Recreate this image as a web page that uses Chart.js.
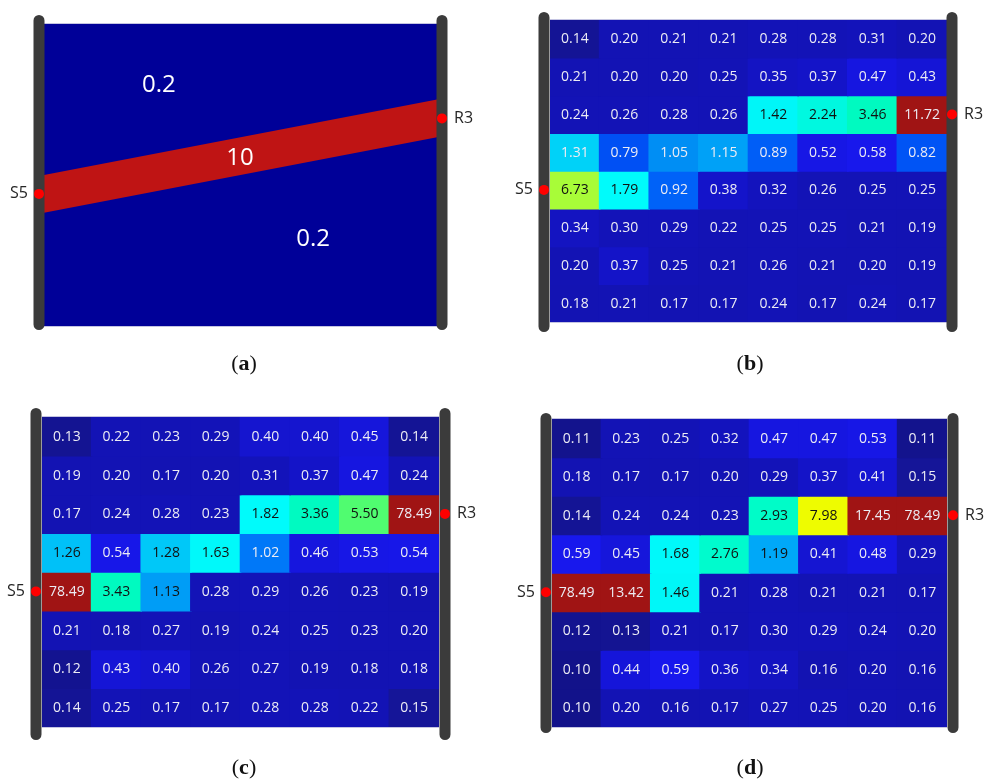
<!DOCTYPE html>
<html><head><meta charset="utf-8">
<script src="https://cdn.jsdelivr.net/npm/chart.js@4.4.1/dist/chart.umd.min.js"></script>
<style>
html,body{margin:0;padding:0;background:#fff;width:984px;height:781px;overflow:hidden;position:relative}
canvas{position:absolute}
.cap{position:absolute;font-family:"Liberation Serif","DejaVu Serif",serif;font-size:22px;color:#111;transform:translate(-50%,-50%);white-space:nowrap;line-height:1}
.cap b{font-weight:bold}
</style></head><body>
<canvas id="ca" width="492" height="390" style="left:0;top:0"></canvas>
<canvas id="cb" width="492" height="390" style="left:492px;top:0"></canvas>
<canvas id="cc" width="492" height="391" style="left:0;top:390px"></canvas>
<canvas id="cd" width="492" height="391" style="left:492px;top:390px"></canvas>
<div class="cap" style="left:244px;top:363px">(<b>a</b>)</div>
<div class="cap" style="left:750px;top:363px">(<b>b</b>)</div>
<div class="cap" style="left:244px;top:767px">(<b>c</b>)</div>
<div class="cap" style="left:750px;top:767px">(<b>d</b>)</div>
<script>
// ---------------- data ----------------
const columns = ['1','2','3','4','5','6','7','8'];
const rowCount = 8;
const sourceName = 'S5';
const receiverName = 'R3';
const sourceRow = 4;    // row index counted from the top
const receiverRow = 2;  // row index counted from the top

// panel (a): true model
const modelBackground = 0.2;
const modelAnomaly = 10;
const anomalyX = [0, 8];
const anomalyBottom = [3, 5];
const anomalyTop = [4, 6];
const modelLabelValue = [modelBackground, modelAnomaly, modelBackground];
const modelLabelX = [2.34, 3.99, 5.48];
const modelLabelY = [6.38, 4.45, 2.30];

// panels (b)-(d): reconstructed cell values, rows from top to bottom
const valuesB = [
  [0.14,0.20,0.21,0.21,0.28,0.28,0.31,0.20],
  [0.21,0.20,0.20,0.25,0.35,0.37,0.47,0.43],
  [0.24,0.26,0.28,0.26,1.42,2.24,3.46,11.72],
  [1.31,0.79,1.05,1.15,0.89,0.52,0.58,0.82],
  [6.73,1.79,0.92,0.38,0.32,0.26,0.25,0.25],
  [0.34,0.30,0.29,0.22,0.25,0.25,0.21,0.19],
  [0.20,0.37,0.25,0.21,0.26,0.21,0.20,0.19],
  [0.18,0.21,0.17,0.17,0.24,0.17,0.24,0.17]
];
const valuesC = [
  [0.13,0.22,0.23,0.29,0.40,0.40,0.45,0.14],
  [0.19,0.20,0.17,0.20,0.31,0.37,0.47,0.24],
  [0.17,0.24,0.28,0.23,1.82,3.36,5.50,78.49],
  [1.26,0.54,1.28,1.63,1.02,0.46,0.53,0.54],
  [78.49,3.43,1.13,0.28,0.29,0.26,0.23,0.19],
  [0.21,0.18,0.27,0.19,0.24,0.25,0.23,0.20],
  [0.12,0.43,0.40,0.26,0.27,0.19,0.18,0.18],
  [0.14,0.25,0.17,0.17,0.28,0.28,0.22,0.15]
];
const valuesD = [
  [0.11,0.23,0.25,0.32,0.47,0.47,0.53,0.11],
  [0.18,0.17,0.17,0.20,0.29,0.37,0.41,0.15],
  [0.14,0.24,0.24,0.23,2.93,7.98,17.45,78.49],
  [0.59,0.45,1.68,2.76,1.19,0.41,0.48,0.29],
  [78.49,13.42,1.46,0.21,0.28,0.21,0.21,0.17],
  [0.12,0.13,0.21,0.17,0.30,0.29,0.24,0.20],
  [0.10,0.44,0.59,0.36,0.34,0.16,0.20,0.16],
  [0.10,0.20,0.16,0.17,0.27,0.25,0.20,0.16]
];

// ---------------- styles ----------------
const colorStops = [
  [0.10,'#12128a'],[0.15,'#151598'],[0.155,'#1313b2'],[0.30,'#1313b8'],[0.37,'#1414c8'],
  [0.47,'#1616e0'],[0.60,'#1818ee'],[0.79,'#0050f4'],[0.92,'#0062f8'],[1.02,'#0078f8'],
  [1.05,'#008ef4'],[1.19,'#00a8f8'],[1.31,'#00d2f8'],[1.42,'#00f6f8'],[1.9,'#00fcfc'],
  [2.24,'#00f8e0'],[2.9,'#00fcc8'],[3.46,'#00fac0'],[5.5,'#50fc70'],[6.73,'#a8fc38'],
  [7.98,'#eefc00'],[9.99,'#eefc00'],[10,'#a01414'],[1000,'#a01414']
];
function hex(h){return [parseInt(h.slice(1,3),16),parseInt(h.slice(3,5),16),parseInt(h.slice(5,7),16)];}
function colorFor(v){
  if (v <= colorStops[0][0]) return colorStops[0][1];
  for (let i=1;i<colorStops.length;i++){
    if (v <= colorStops[i][0]){
      const [v0,c0]=colorStops[i-1],[v1,c1]=colorStops[i];
      const t=(v-v0)/(v1-v0), a=hex(c0), b=hex(c1);
      return 'rgb('+a.map((x,k)=>Math.round(x+(b[k]-x)*t)).join(',')+')';
    }
  }
  return colorStops[colorStops.length-1][1];
}

const boreholePlugin = {
  id: 'borehole',
  afterDraw(chart, args, o) {
    const {ctx, chartArea: a, scales: {y}} = chart;
    ctx.save();
    ctx.strokeStyle = '#c4c4e2'; ctx.lineWidth = 1;
    ctx.beginPath();
    ctx.moveTo(a.left, a.top - 0.5); ctx.lineTo(a.right, a.top - 0.5);
    ctx.moveTo(a.left, a.bottom + 0.5); ctx.lineTo(a.right, a.bottom + 0.5);
    ctx.stroke();
    const lx = a.left - o.dl, rx = a.right + o.dr;
    ctx.strokeStyle = '#3b3b3b'; ctx.lineWidth = 11; ctx.lineCap = 'round';
    ctx.beginPath();
    ctx.moveTo(lx, a.top - o.up + 5.5); ctx.lineTo(lx, a.bottom + o.down - 5.5);
    ctx.moveTo(rx, a.top - o.up + 5.5); ctx.lineTo(rx, a.bottom + o.down - 5.5);
    ctx.stroke();
    const sy = y.getPixelForValue(rowCount - sourceRow - 0.5);
    const ry = y.getPixelForValue(rowCount - receiverRow - 0.5);
    ctx.fillStyle = '#ff0000';
    ctx.beginPath(); ctx.arc(lx, sy, 5, 0, Math.PI*2); ctx.fill();
    ctx.beginPath(); ctx.arc(rx, ry, 5, 0, Math.PI*2); ctx.fill();
    ctx.fillStyle = '#262626'; ctx.font = '16px "Open Sans"'; ctx.textBaseline = 'middle';
    ctx.textAlign = 'right'; ctx.fillText(sourceName, lx - 11, sy);
    ctx.textAlign = 'left'; ctx.fillText(receiverName, rx + 12, ry);
    ctx.restore();
  }
};

const cellLabelPlugin = {
  id: 'cellLabels',
  afterDatasetsDraw(chart, args, o) {
    if (!o.enabled) return;
    const ctx = chart.ctx;
    ctx.save();
    ctx.font = '14px "Open Sans"'; ctx.textAlign = 'center'; ctx.textBaseline = 'middle';
    chart.data.datasets.forEach((ds, i) => {
      chart.getDatasetMeta(i).data.forEach((el, j) => {
        const v = ds.cellValues[j];
        ctx.fillStyle = (v > o.darkTextFrom && v < 10) ? '#111111' : '#ececf4';
        ctx.fillText(v.toFixed(2), el.x, (el.y + el.base) / 2 + 0.5);
      });
    });
    ctx.restore();
  }
};

const modelLabelPlugin = {
  id: 'modelLabels',
  afterDatasetsDraw(chart, args, o) {
    if (!o.enabled) return;
    const {ctx, scales: {x, y}} = chart;
    ctx.save();
    ctx.font = '24px "Open Sans"'; ctx.fillStyle = '#ffffff';
    ctx.textAlign = 'center'; ctx.textBaseline = 'middle';
    modelLabelValue.forEach((v, i) => {
      ctx.fillText(String(v), x.getPixelForValue(modelLabelX[i]), y.getPixelForValue(modelLabelY[i]));
    });
    ctx.restore();
  }
};

Chart.register(boreholePlugin, cellLabelPlugin, modelLabelPlugin);

function baseOptions(pad, bore) {
  return {
    responsive: false, animation: false,
    layout: {padding: pad},
    plugins: {legend: {display: false}, tooltip: {enabled: false}, borehole: bore},
  };
}

// panel (a)
(function(){
  const opts = baseOptions({left:44, top:24, right:55, bottom:64}, {dl:5, dr:5, up:9, down:4});
  opts.scales = {
    x: {type: 'linear', min: 0, max: 8, display: false},
    y: {type: 'linear', min: 0, max: rowCount, display: false}
  };
  opts.plugins.modelLabels = {enabled: true};
  opts.plugins.cellLabels = {enabled: false};
  opts.elements = {point: {radius: 0}, line: {borderWidth: 0}};
  new Chart(document.getElementById('ca'), {
    type: 'line',
    data: {datasets: [
      {data: anomalyX.map((x, i) => ({x, y: anomalyTop[i]})), fill: '+1', backgroundColor: '#bf1414', borderWidth: 0},
      {data: anomalyX.map((x, i) => ({x, y: anomalyBottom[i]})), fill: false, borderWidth: 0},
      {data: anomalyX.map(x => ({x, y: rowCount})), fill: 'start', backgroundColor: '#000098', borderWidth: 0}
    ]},
    options: opts
  });
})();

function heatmap(id, values, pad, bore, darkTextFrom) {
  const opts = baseOptions(pad, bore);
  opts.scales = {
    x: {type: 'category', display: false},
    y: {type: 'linear', min: 0, max: rowCount, display: false}
  };
  opts.plugins.cellLabels = {enabled: true, darkTextFrom};
  opts.plugins.modelLabels = {enabled: false};
  opts.datasets = {bar: {grouped: false, barPercentage: 1, categoryPercentage: 1, borderWidth: 0, borderSkipped: false, inflateAmount: 0.8}};
  new Chart(document.getElementById(id), {
    type: 'bar',
    data: {
      labels: columns,
      datasets: values.map((row, r) => ({
        data: row.map(() => [rowCount - 1 - r, rowCount - r]),
        cellValues: row,
        backgroundColor: row.map(v => colorFor(v))
      }))
    },
    options: opts
  });
}

heatmap('cb', valuesB, {left:58, top:20, right:37, bottom:68}, {dl:6, dr:5, up:8, down:10}, 1.4);
heatmap('cc', valuesC, {left:42, top:27, right:53, bottom:54}, {dl:6, dr:6, up:9, down:13}, 1.05);
heatmap('cd', valuesD, {left:60, top:29, right:37, bottom:54}, {dl:6, dr:6, up:6, down:6}, 1.05);
</script>
</body></html>
